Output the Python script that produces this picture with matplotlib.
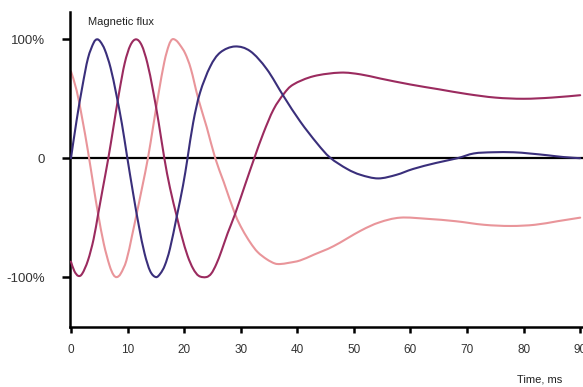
import matplotlib.pyplot as plt
from matplotlib.path import Path
from matplotlib.patches import PathPatch

plt.rcParams["font.family"] = ["Liberation Sans", "DejaVu Sans"]

# values (time in ms, flux in %)
navy_t = [0, 1, 2, 3, 4, 4.6, 5.2, 6, 7, 8, 9, 9.9, 11, 12, 13, 14, 15, 15.8,
          16.6, 17.5, 18.7, 19.8, 20.6, 21.6, 22.8, 24.6, 26.4, 29, 31.7, 34.6,
          37.6, 40.5, 43.5, 45.8, 48.8, 51.2, 54.3, 57.5, 60.5, 64.5, 68.3,
          71.2, 74.5, 78.2, 81, 84.2, 87, 90]
navy_v = [0, 32, 60, 84, 97, 100, 98, 91, 76, 54, 29, 2, -30, -57, -80, -95, -100, -97,
          -90, -76, -49, -23, 0, 30, 55, 77, 89, 94, 90, 75, 52, 31, 12.5, 0.5, -9, -14,
          -17, -14, -9, -4, 0, 4, 5, 5, 4, 2.5, 1, 0]

magenta_t = [0, 0.6, 1.3, 2, 3, 4, 4.8, 5.6, 6.6, 7.5, 8.5, 9.5, 10.5, 11.5, 12.5,
             13.5, 14.5, 15.5, 16.5, 17.5, 18.7, 19.6, 20.6, 21.6, 22.6, 23.9, 24.8,
             25.7, 26.6, 27.7, 29, 30.8, 32.4, 34, 35.8, 37.6, 39.3, 42.9, 47.6, 51.2,
             54.7, 60, 65, 70, 75, 80, 85, 90]
magenta_v = [-87, -95, -99, -97, -86, -68, -47, -26, 0, 26, 55, 80, 95, 100, 95, 80,
             57, 30, 0, -25, -49, -66, -82, -93, -99, -100, -97, -89, -78, -63, -47,
             -22, 0, 21, 41, 54, 62, 69, 72, 70.5, 67, 62, 58, 54, 51, 50, 51, 53]

pink_t = [0, 1, 2, 3, 4, 4.8, 5.8, 6.8, 7.5, 8.1, 8.8, 9.8, 10.8, 11.6, 12.6, 13.6,
          14.5, 15.5, 16.5, 17.3, 17.9, 18.6, 19.3, 20.2, 21.2, 22.5, 24, 25.5, 27,
          29, 30.3, 31.7, 33, 34.6, 36, 37, 38.5, 40.5, 43, 46.4, 51.2, 54.5, 58.2,
          63, 68, 73, 77.7, 82, 86, 90]
pink_v = [73, 57, 33, 6, -24, -47, -72, -90, -98, -100, -97, -86, -65, -47, -24, 0,
          26, 55, 81, 95, 100, 99, 95, 88, 75, 50, 26, 0, -20, -47, -60, -71, -79,
          -85, -88.5, -89, -88, -86, -81, -74, -61, -54, -50, -51, -53, -56, -57,
          -56, -53, -50]

xticks = [0, 10, 20, 30, 40, 50, 60, 70, 80, 90]
yticks = [-100, 0, 100]
ylabels = ["-100%", "0", "100%"]


def smooth_path(xs, ys):
    # Catmull-Rom through the read points, handed to matplotlib as Bezier segments
    pts = list(zip(xs, ys))
    verts = [pts[0]]
    codes = [Path.MOVETO]
    n = len(pts)
    for i in range(n - 1):
        p0 = pts[i - 1] if i > 0 else pts[i]
        p1 = pts[i]
        p2 = pts[i + 1]
        p3 = pts[i + 2] if i + 2 < n else pts[i + 1]
        c1 = (p1[0] + (p2[0] - p0[0]) / 6, p1[1] + (p2[1] - p0[1]) / 6)
        c2 = (p2[0] - (p3[0] - p1[0]) / 6, p2[1] - (p3[1] - p1[1]) / 6)
        verts += [c1, c2, p2]
        codes += [Path.CURVE4] * 3
    return Path(verts, codes)


fig = plt.figure(figsize=(5.83, 3.87), dpi=100)
ax = fig.add_axes([0.120, 0.155, 0.880, 0.814])

lw = 1.5
ax.axhline(0, color="black", lw=1.6, zorder=1)
for xs, ys, col, z in [(pink_t, pink_v, "#e9959a", 2),
                       (magenta_t, magenta_v, "#9b2b5f", 3),
                       (navy_t, navy_v, "#3a2f7b", 4)]:
    ax.add_patch(PathPatch(smooth_path(xs, ys), fill=False, edgecolor=col,
                           lw=lw, zorder=z, capstyle="round", joinstyle="round"))

ax.set_xlim(-0.18, 90.5)
ax.set_ylim(-142, 123)

for s in ["top", "right"]:
    ax.spines[s].set_visible(False)
for s in ["left", "bottom"]:
    ax.spines[s].set_linewidth(1.8)
    ax.spines[s].set_color("black")

ax.set_xticks(xticks)
ax.set_yticks(yticks, ylabels)
ax.tick_params(axis="x", direction="out", length=4, width=1.8, pad=8,
               labelsize=8.5, labelcolor="#333333")
ax.tick_params(axis="y", direction="out", length=6, width=1.8, pad=12,
               labelsize=9.5, labelcolor="#333333")

fig.text(88 / 583, 1 - 22 / 387, "Magnetic flux", fontsize=8, color="#222222",
         ha="left", va="center")
fig.text(517 / 583, 1 - 380 / 387, "Time, ms", fontsize=8, color="#222222",
         ha="left", va="center")

fig.savefig("out.png", dpi=100)
